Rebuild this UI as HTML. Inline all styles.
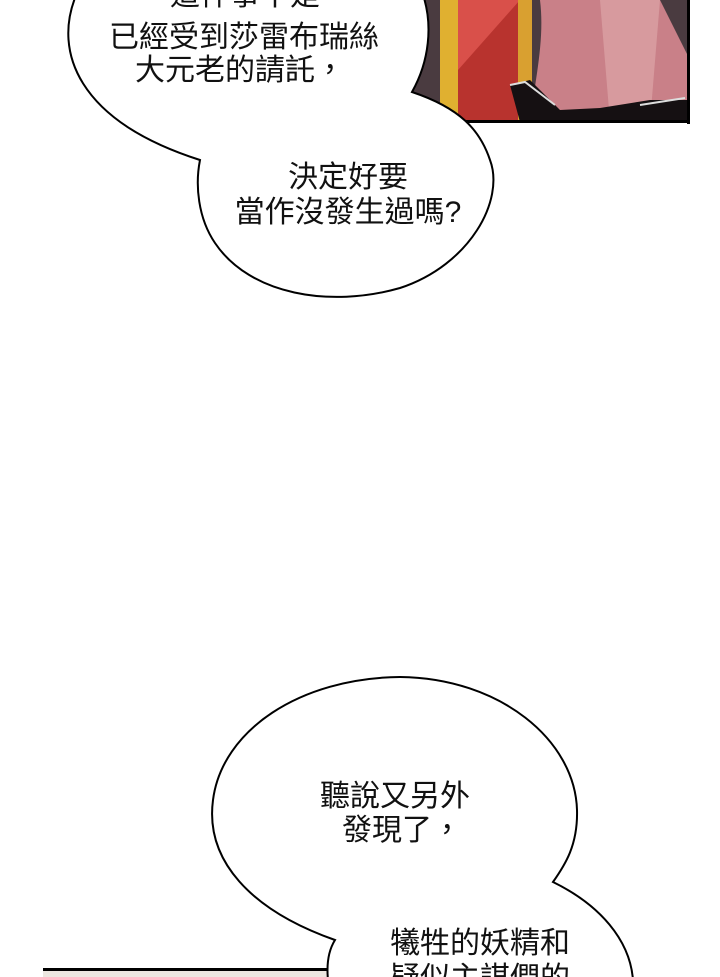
<!DOCTYPE html>
<html><head><meta charset="utf-8"><style>
html,body{margin:0;padding:0;background:#fff;}
svg{display:block}
text{font-family:"Liberation Sans","Noto Sans CJK TC",sans-serif;font-size:30px;fill:#111;}
</style></head><body>
<svg width="720" height="977" viewBox="0 0 720 977" xmlns="http://www.w3.org/2000/svg">
<rect x="400" y="0" width="290" height="122" fill="#4a3b40"/>
<rect x="440" y="0" width="20" height="122" fill="#e0b030"/>
<rect x="458" y="0" width="60" height="122" fill="#b8332e"/>
<polygon points="458,0 520,0 458,70" fill="#d9504a"/>
<rect x="518" y="0" width="14" height="122" fill="#d9a030"/>
<path d="M540,0 L660,0 L690,60 L690,122 L530,122 C535,80 545,40 540,0Z" fill="#c98088"/>
<path d="M600,0 L660,0 L650,122 L610,122Z" fill="#d79a9e"/>
<path d="M510,85 L530,80 L560,110 L600,108 L650,100 L690,100 L690,122 L520,122Z" fill="#151012"/>
<path d="M510,85 L525,82 L555,105" stroke="#ddd" stroke-width="2" fill="none"/>
<path d="M640,105 L685,98" stroke="#ddd" stroke-width="2" fill="none"/>
<rect x="687" y="0" width="3" height="124" fill="#000"/>
<rect x="400" y="120" width="290" height="3" fill="#000"/>
<path d="M75,-2 C55,50 75,120 200,160 C195,185 198,218 215,243 C250,295 330,308 400,288 C470,265 505,200 490,160 C480,130 460,108 412,92 C430,60 432,25 424,-2 Z" fill="#fff" stroke="#000" stroke-width="2"/>
<text x="245" y="5" text-anchor="middle">這件事不是</text>
<text x="244" y="47" text-anchor="middle">已經受到莎雷布瑞絲</text>
<text x="240" y="80" text-anchor="middle">大元老的請託，</text>
<text x="348" y="187" text-anchor="middle">決定好要</text>
<text x="348" y="222" text-anchor="middle">當作沒發生過嗎?</text>
<rect x="43" y="968" width="290" height="12" fill="#ece7e0"/>
<rect x="43" y="968" width="290" height="3" fill="#000"/>
<path d="M335,940 C250,910 205,860 213,800 C222,730 300,678 400,677 C500,678 575,740 577,810 C578,845 565,865 553,882 C600,905 630,940 633,980 L328,980 C326,960 330,948 335,940 Z" fill="#fff" stroke="#000" stroke-width="2"/>
<text x="395" y="806" text-anchor="middle">聽說又另外</text>
<text x="342" y="840">發現了，</text>
<text x="480" y="953" text-anchor="middle">犧牲的妖精和</text>
<text x="480" y="988" text-anchor="middle">疑似主謀們的</text>
</svg>
</body></html>
